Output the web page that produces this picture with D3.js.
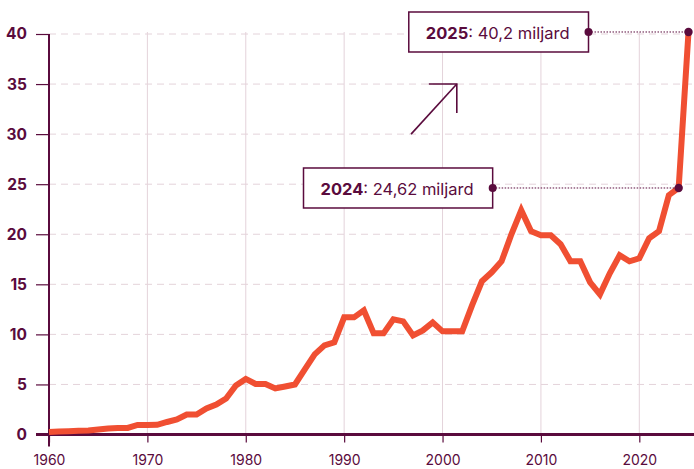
<!DOCTYPE html>
<html>
<head>
<meta charset="utf-8">
<script src="https://cdn.jsdelivr.net/npm/d3@7/dist/d3.min.js"></script>
<style>
  html, body { margin: 0; padding: 0; background: #fff; }
  svg { display: block; font-family: Inter, "Noto Sans", sans-serif; }
</style>
</head>
<body>
<svg id="chart" width="694" height="469"></svg>
<script>
// ---- data ----
const years = [1960,1961,1962,1963,1964,1965,1966,1967,1968,1969,
  1970,1971,1972,1973,1974,1975,1976,1977,1978,1979,
  1980,1981,1982,1983,1984,1985,1986,1987,1988,1989,
  1990,1991,1992,1993,1994,1995,1996,1997,1998,1999,
  2000,2001,2002,2003,2004,2005,2006,2007,2008,2009,
  2010,2011,2012,2013,2014,2015,2016,2017,2018,2019,
  2020,2021,2022,2023,2024,2025];
const values = [0.25,0.3,0.33,0.37,0.4,0.5,0.6,0.65,0.65,0.95,
  0.95,0.97,1.25,1.5,2.0,2.0,2.6,3.0,3.6,4.9,
  5.55,5.05,5.05,4.6,4.8,5.0,6.5,8.0,8.9,9.2,
  11.7,11.7,12.4,10.1,10.1,11.5,11.3,9.9,10.4,11.2,
  10.3,10.3,10.3,12.9,15.3,16.2,17.3,20.0,22.4,20.3,
  19.9,19.9,19.0,17.3,17.3,15.2,14.0,16.1,17.9,17.3,
  17.6,19.6,20.3,23.9,24.62,40.2];
const yTicks = [0,5,10,15,20,25,30,35,40];
const xTicks = [1960,1970,1980,1990,2000,2010,2020];
const annotations = [
  {year: 2025, value: 40.2, bold: "2025", rest: ": 40,2 miljard"},
  {year: 2024, value: 24.62, bold: "2024", rest: ": 24,62 miljard"}
];

// ---- styles ----
const dark = "#5a0b3d";
const grid = "#e4d3da";
const lineColor = "#f04f32";

const svg = d3.select("#chart");
const x = d3.scaleLinear().domain([1960, 2025]).range([49, 688.5]);
const y = d3.scaleLinear().domain([0, 40]).range([434.5, 34]);

// gridlines
svg.append("g").selectAll("line").data(yTicks.filter(d => d > 0)).join("line")
  .attr("x1", x(1960)).attr("x2", 694)
  .attr("y1", d => y(d)).attr("y2", d => y(d))
  .attr("stroke", grid).attr("stroke-width", 1).attr("stroke-dasharray", "7,5");
svg.append("g").selectAll("line").data(xTicks.filter(d => d > 1960)).join("line")
  .attr("x1", d => x(d)).attr("x2", d => x(d))
  .attr("y1", y(40) - 2).attr("y2", y(0))
  .attr("stroke", grid).attr("stroke-width", 1);

// y axis
const yAxis = svg.append("g").attr("transform", `translate(${x(1960)},0)`)
  .call(d3.axisLeft(y).tickValues(yTicks).tickSize(13).tickPadding(9).tickFormat(d3.format("d")));
yAxis.select(".domain").remove();
yAxis.selectAll(".tick line").attr("stroke", dark).attr("stroke-width", 1.2);
yAxis.selectAll(".tick text").attr("fill", dark).attr("font-size", 15.5).attr("font-weight", 700)
  .attr("font-family", "Inter, sans-serif");
svg.append("line").attr("x1", x(1960)).attr("x2", x(1960))
  .attr("y1", y(40)).attr("y2", y(0) + 12)
  .attr("stroke", dark).attr("stroke-width", 2);

// x axis
const xAxis = svg.append("g").attr("transform", `translate(0,${y(0)})`)
  .call(d3.axisBottom(x).tickValues(xTicks).tickSize(8).tickPadding(13).tickFormat(d3.format("d")));
xAxis.select(".domain").remove();
xAxis.selectAll(".tick line").attr("stroke", dark).attr("stroke-width", 1.2);
xAxis.selectAll(".tick text").attr("fill", dark).attr("font-size", 14).attr("font-weight", 400)
  .attr("font-family", "Inter, sans-serif");
svg.append("line").attr("x1", 36).attr("x2", 694)
  .attr("y1", y(0)).attr("y2", y(0))
  .attr("stroke", dark).attr("stroke-width", 3);

// arrow
const arrow = svg.append("g").attr("stroke", dark).attr("stroke-width", 1.6).attr("fill", "none");
arrow.append("line").attr("x1", x(1996.8)).attr("y1", y(30)).attr("x2", x(2001.45)).attr("y2", y(35));
arrow.append("path").attr("d", `M${x(1998.6)},${y(35)}H${x(2001.45)}V${y(32.1)}`);

// line
const data = years.map((yr, i) => ({year: yr, value: values[i]}));
svg.append("path").datum(data)
  .attr("fill", "none").attr("stroke", lineColor).attr("stroke-width", 6)
  .attr("stroke-linejoin", "miter").attr("stroke-miterlimit", 3)
  .attr("d", d3.line().x(d => x(d.year)).y(d => y(d.value)));

// annotations
const offsets = {2025: 100, 2024: 186};
annotations.forEach(a => {
  const px = x(a.year), py = y(a.value);
  const dotX = px - offsets[a.year];
  const g = svg.append("g");
  g.append("line").attr("x1", dotX).attr("x2", px).attr("y1", py).attr("y2", py)
    .attr("stroke", dark).attr("stroke-width", 1).attr("stroke-dasharray", "1.5,1.5");
  const rect = g.append("rect").attr("fill", "#fff").attr("stroke", dark).attr("stroke-width", 1.5);
  const t = g.append("text").attr("y", py + 1).attr("dominant-baseline", "central")
    .attr("fill", dark).attr("font-size", 16.5).attr("font-family", "Inter, sans-serif");
  t.append("tspan").attr("font-weight", 700).text(a.bold);
  t.append("tspan").attr("font-weight", 400).text(a.rest);
  const w = t.node().getComputedTextLength();
  const padL = 17, padR = 19;
  const boxW = w + padL + padR;
  t.attr("x", dotX - padR - w);
  rect.attr("x", dotX - boxW).attr("y", py - 20).attr("width", boxW).attr("height", 40);
  g.append("circle").attr("cx", dotX).attr("cy", py).attr("r", 4).attr("fill", dark);
  svg.append("circle").attr("cx", px).attr("cy", py).attr("r", 4.2).attr("fill", dark);
});
</script>
</body>
</html>
